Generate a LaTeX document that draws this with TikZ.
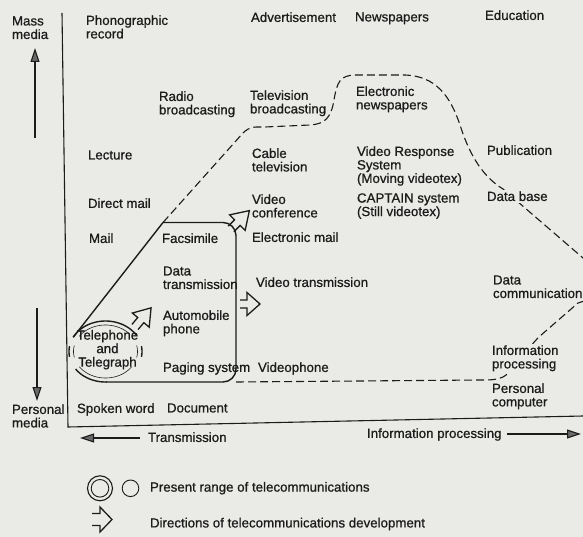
\documentclass[tikz,border=0pt]{standalone}
\usepackage{fontspec}
\setmainfont{Liberation Sans}[FakeBold=0.8]
\usetikzlibrary{arrows.meta}
\definecolor{paper}{RGB}{234,234,230}
\definecolor{ink}{RGB}{28,28,28}
\definecolor{headgray}{RGB}{105,105,105}
\begin{document}
\begin{tikzpicture}[x=1pt,y=-1pt,
  every node/.style={inner sep=0pt,outer sep=0pt,text=ink},
  lbl/.style={anchor=north west,align=left,font=\fontsize{13.3}{13.5}\selectfont},
  knock/.style={lbl,fill=paper,inner sep=1.5pt},
  axisline/.style={draw=ink,line width=1.1pt},
  axarrow/.style={draw=ink,line width=1.1pt,-{Triangle[length=14pt,width=9pt,fill=headgray]}},
  presentline/.style={draw=ink,line width=1.4pt},
  futureline/.style={draw=ink,line width=1.1pt,dash pattern=on 8pt off 4pt},
  pics/openarr/.style n args={4}{code={
    \draw[ink,line width=1.3pt,line join=miter]
      (0,#1) -- (#3,#1) -- (#3,#2) -- (#4,0) -- (#3,-#2) -- (#3,-#1) -- (0,-#1);}}
]
\fill[paper] (0,0) rectangle (583,537);
\useasboundingbox (0,0) rectangle (583,537);

% ---------- axes ----------
\coordinate (origin) at (68,427);
\coordinate (ytop) at (62,13);
\coordinate (xend) at (583,416);
\draw[axisline] (ytop) -- (origin) -- (xend);

\coordinate (upA) at (35,138);  \coordinate (upB) at (35,48);
\coordinate (dnA) at (37,308);  \coordinate (dnB) at (37,401);
\coordinate (lfA) at (140,438); \coordinate (lfB) at (80,438);
\coordinate (rtA) at (507,434); \coordinate (rtB) at (581,434);
\draw[axarrow] (upA) -- (upB);
\draw[axarrow] (dnA) -- (dnB);
\draw[axarrow] (lfA) -- (lfB);
\draw[axarrow] (rtA) -- (rtB);

% ---------- present range (solid) ----------
\coordinate (diagLow) at ({105.5-36.5*cos(28)},{351.5-30.5*sin(28)});
\coordinate (diagHigh) at (163,222.5);
\coordinate (boxTR) at (236,222.5);
\coordinate (boxBR) at (236,382);
\coordinate (boxBL) at (105.5,382);
\draw[presentline] (diagLow) -- (diagHigh);
\draw[presentline,rounded corners=13pt] (diagHigh) -- (boxTR) -- (boxBR) -- (boxBL);

% double ring round the telephone
\draw[presentline] plot[domain=32:152,samples=40] ({105.5+36.5*cos(\x)},{351.5-30.5*sin(\x)});
\draw[presentline] plot[domain=215:272,samples=30] ({105.5+36.5*cos(\x)},{351.5-30.5*sin(\x)});
\draw[presentline] plot[domain=170:190,samples=10] ({105.5+36.5*cos(\x)},{351.5-30.5*sin(\x)});
\draw[presentline] plot[domain=-10:10,samples=10] ({105.5+36.5*cos(\x)},{351.5-30.5*sin(\x)});
\draw[ink,line width=0.6pt] plot[domain=40:145,samples=40] ({105.5+32*cos(\x)},{351.5-26.5*sin(\x)});
\draw[ink,line width=0.6pt] plot[domain=215:325,samples=40] ({105.5+32*cos(\x)},{351.5-26.5*sin(\x)});
\draw[ink,line width=0.6pt] plot[domain=167:193,samples=10] ({105.5+32*cos(\x)},{351.5-26.5*sin(\x)});
\draw[ink,line width=0.6pt] plot[domain=-13:13,samples=10] ({105.5+32*cos(\x)},{351.5-26.5*sin(\x)});

% ---------- future range (dashed) ----------
\draw[futureline] (diagHigh) -- (243,133)
  .. controls (250,126) and (255,127) .. (265,127)
  -- (310,125)
  .. controls (325,124) and (331,118) .. (334,100)
  .. controls (337,82) and (340,75.5) .. (355,75)
  -- (405,75)
  .. controls (435,76) and (450,95) .. (460,125)
  .. controls (468,150) and (480,175) .. (503,189)
  -- (583,258)
  .. controls (612,284) and (602,296) .. (578,303)
  -- (540,336)
  .. controls (525,350) and (518,368) .. (503,377)
  .. controls (497,380) and (490,380) .. (480,380)
  -- (boxBR);

% ---------- directions of development ----------
\pic[rotate=50] at (135,327) {openarr={4}{11}{9}{25}};
\pic[rotate=45] at (231,229) {openarr={4}{11}{9}{26}};
\pic at (240,304) {openarr={4}{11.5}{7}{20}};

% ---------- labels ----------
\node[lbl] (mass) at (12,16.3) {Mass\\media};
\node[lbl] (phono) at (86,15.3) {Phonographic\\record};
\node[lbl] (advert) at (251,12.3) {Advertisement};
\node[lbl] (news) at (355,12.3) {Newspapers};
\node[lbl] (educ) at (485,10.3) {Education};
\node[lbl] (radio) at (159,91.3) {Radio\\broadcasting};
\node[lbl] (tv) at (250,90.3) {Television\\broadcasting};
\node[lbl] (enews) at (356,86.3) {Electronic\\newspapers};
\node[lbl] (lecture) at (88,150.3) {Lecture};
\node[lbl] (cable) at (252,148.3) {Cable\\television};
\node[lbl] (vrs) at (357,146.3) {Video Response\\System\\(Moving videotex)};
\node[lbl] (publ) at (487,145.3) {Publication};
\node[lbl] (dmail) at (88,198.3) {Direct mail};
\node[lbl] (vconf) at (252,194.3) {Video\\conference};
\node[lbl] (captain) at (357,193.3) {CAPTAIN system\\(Still videotex)};
\node[knock] (dbase) at (485.5,189.8) {Data base};
\node[lbl] (mail) at (89,233.3) {Mail};
\node[lbl] (fax) at (162,233.3) {Facsimile};
\node[lbl] (email) at (252,232.3) {Electronic mail};
\node[lbl] (datatx) at (163,266.3) {Data\\transmission};
\node[lbl] (vtx) at (256,277.3) {Video transmission};
\node[lbl] (datacom) at (493,275.3) {Data\\communication};
\node[lbl] (auto) at (163,310.3) {Automobile\\phone};
\node[lbl,anchor=north,align=center] (tel) at (107.5,330) {Telephone\\and\\Telegraph};
\node[lbl] (paging) at (163,362.3) {Paging system};
\node[lbl] (vphone) at (258,362.3) {Videophone};
\node[knock] (infop) at (490.5,343.8) {Information\\processing};
\node[lbl] (pc) at (492,383.3) {Personal\\computer};
\node[lbl] (personal) at (12,404.3) {Personal\\media};
\node[lbl] (spoken) at (77,403.3) {Spoken word};
\node[lbl] (doc) at (167,403.3) {Document};
\node[lbl] (transm) at (148,432.3) {Transmission};
\node[lbl] (infoaxis) at (367,428.3) {Information processing};

% ---------- legend ----------
\draw[ink,line width=1.1pt] (100,488.3) circle[radius=12.5];
\draw[ink,line width=0.9pt] (100,488.3) circle[radius=8.8];
\draw[ink,line width=0.9pt] (130.5,488.3) circle[radius=8.3];
\node[lbl] (leg1) at (150,482) {Present range of telecommunications};
\pic at (92,519.5) {openarr={6}{12.5}{8}{20}};
\node[lbl] (leg2) at (150,517.8) {Directions of telecommunications development};
\end{tikzpicture}
\end{document}
